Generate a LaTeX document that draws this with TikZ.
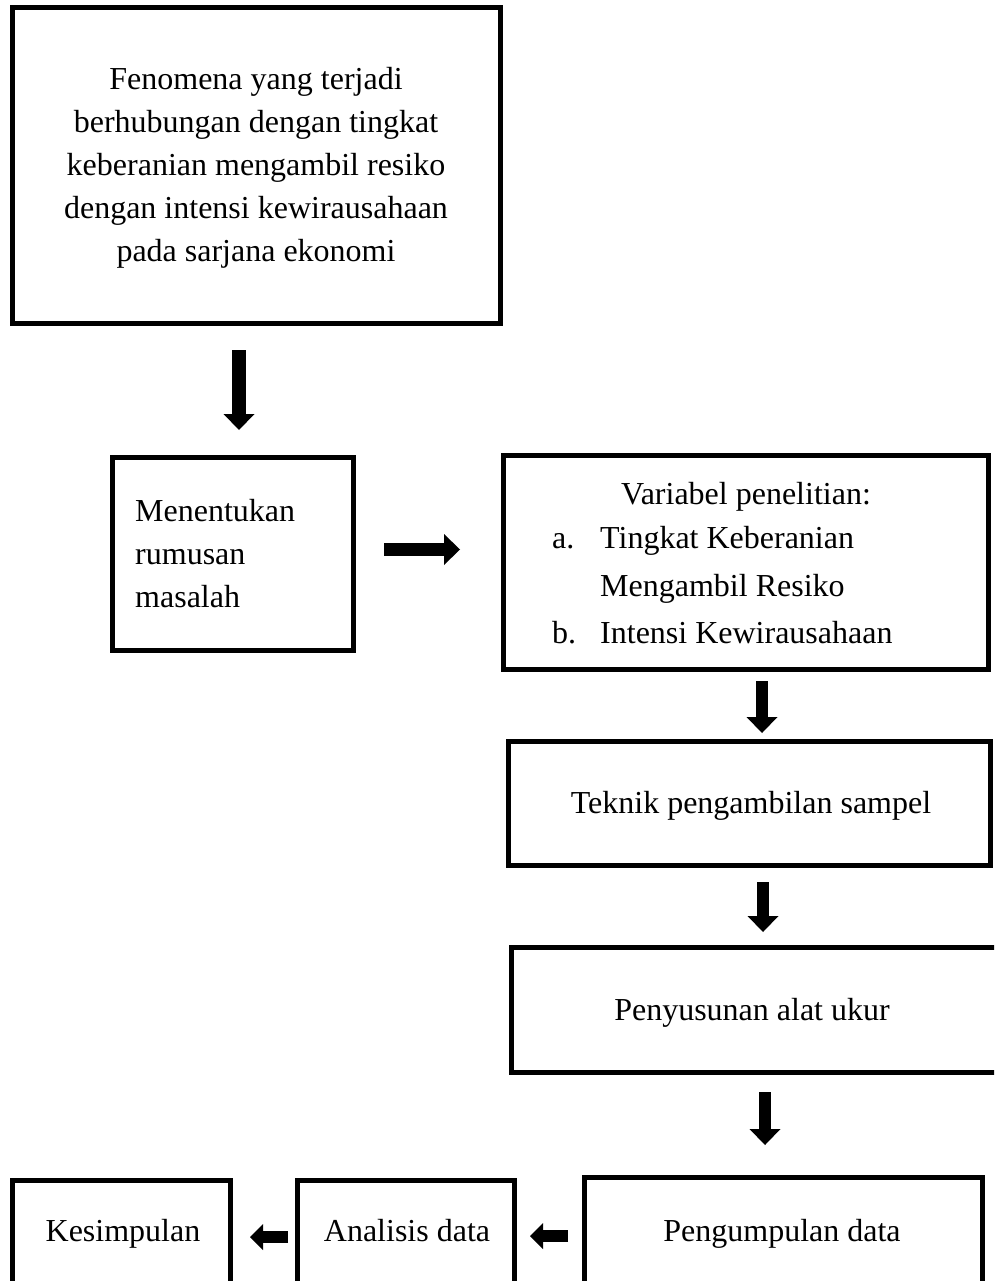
\documentclass[tikz,border=0pt]{standalone}
\usepackage{fontspec}
\setmainfont{Liberation Serif}
\usetikzlibrary{arrows.meta}
\begin{document}
\begin{tikzpicture}[x=1pt,y=-1pt,
  box/.style={draw, line width=5pt, rectangle, inner sep=0pt, outer sep=0pt},
  txt/.style={font=\fontsize{32}{43}\selectfont, inner sep=0pt},
  barrow/.style={line width=14pt, -{Triangle[width=31pt,length=16pt,line width=0pt]}},
  sarrow/.style={line width=12pt, -{Triangle[width=26pt,length=13pt,line width=0pt]}}]
\useasboundingbox (0,0) rectangle (994,1281);
\clip (0,0) rectangle (994,1281);
% boxes
\node[box, minimum width=488pt, minimum height=315pt] (fen) at (256,165.5) {};
\node[box, minimum width=241pt, minimum height=193pt] (rum) at (232.5,553.5) {};
\node[box, minimum width=485pt, minimum height=214pt] (var) at (745.5,562) {};
\node[box, minimum width=482pt, minimum height=124pt] (tek) at (749,803) {};
\node[box, minimum width=489pt, minimum height=125pt] (pen) at (755.5,1009.5) {};
\node[box, minimum width=398pt, minimum height=110pt] (pgd) at (783,1232) {};
\node[box, minimum width=217pt, minimum height=110pt] (ana) at (405.5,1235) {};
\node[box, minimum width=218pt, minimum height=110pt] (kes) at (121,1235) {};
% texts
\node[txt, align=center] (t1) at (256,168) {Fenomena yang terjadi\\berhubungan dengan tingkat\\keberanian mengambil resiko\\dengan intensi kewirausahaan\\pada sarjana ekonomi};
\node[txt, anchor=base west] (t2a) at (135,521) {Menentukan};
\node[txt, anchor=base west] (t2b) at (135,564) {rumusan};
\node[txt, anchor=base west] (t2c) at (135,607) {masalah};
\node[txt, anchor=base] (t3) at (746,504) {Variabel penelitian:};
\node[txt, anchor=base west] (t3a) at (552,548) {a.};
\node[txt, anchor=base west] (t3b) at (600,548) {Tingkat Keberanian};
\node[txt, anchor=base west] (t3c) at (600,596) {Mengambil Resiko};
\node[txt, anchor=base west] (t3d) at (552,643) {b.};
\node[txt, anchor=base west] (t3e) at (600,643) {Intensi Kewirausahaan};
\node[txt, anchor=base] (t4) at (751,813) {Teknik pengambilan sampel};
\node[txt, anchor=base] (t5) at (752,1020) {Penyusunan alat ukur};
\node[txt, anchor=base] (t6) at (782,1241) {Pengumpulan data};
\node[txt, anchor=base] (t7) at (407,1241) {Analisis data};
\node[txt, anchor=base] (t8) at (123,1241) {Kesimpulan};
% arrow end points
\coordinate (a1s) at (239,350); \coordinate (a1e) at (239,430);
\coordinate (a2s) at (384,549.5); \coordinate (a2e) at (460,549.5);
\coordinate (a3s) at (762,681); \coordinate (a3e) at (762,733);
\coordinate (a4s) at (763,882); \coordinate (a4e) at (763,932);
\coordinate (a5s) at (765,1092); \coordinate (a5e) at (765,1145);
\coordinate (a6s) at (568,1236); \coordinate (a6e) at (530,1236);
\coordinate (a7s) at (288,1237); \coordinate (a7e) at (250,1237);
\draw[barrow] (a1s) -- (a1e);
\draw[barrow, line width=13pt] (a2s) -- (a2e);
\draw[barrow, line width=12pt] (a3s) -- (a3e);
\draw[barrow, line width=12pt] (a4s) -- (a4e);
\draw[barrow, line width=12pt] (a5s) -- (a5e);
\draw[sarrow] (a6s) -- (a6e);
\draw[sarrow] (a7s) -- (a7e);
\end{tikzpicture}
\end{document}
